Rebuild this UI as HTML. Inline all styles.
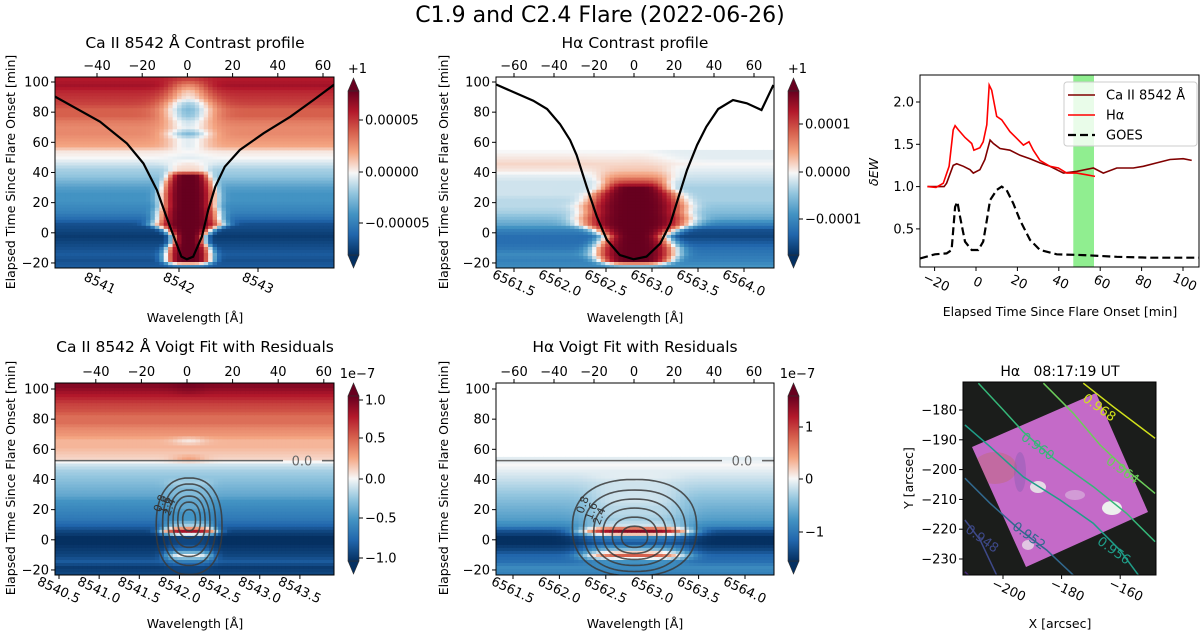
<!DOCTYPE html>
<html><head><meta charset="utf-8"><style>
html,body{margin:0;padding:0;background:#fff;}
svg{display:block;font-family:"DejaVu Sans","Liberation Sans",sans-serif;}
</style></head><body>
<svg id="fig" width="1200" height="634" viewBox="0 0 1200 634" xmlns="http://www.w3.org/2000/svg">
<defs>
<linearGradient id="cbgrad" x1="0" y1="1" x2="0" y2="0">
<stop offset="0" stop-color="#053061"/><stop offset="0.125" stop-color="#2166ac"/><stop offset="0.25" stop-color="#4393c3"/><stop offset="0.375" stop-color="#92c5de"/><stop offset="0.5" stop-color="#f7f7f7"/><stop offset="0.625" stop-color="#f4a582"/><stop offset="0.75" stop-color="#d6604d"/><stop offset="0.875" stop-color="#b2182b"/><stop offset="1" stop-color="#67001f"/>
</linearGradient>
<clipPath id="c1"><rect x="55" y="77" width="279" height="191"/></clipPath>
<clipPath id="c2"><rect x="496" y="77" width="278" height="191"/></clipPath>
<clipPath id="c3"><rect x="55" y="383" width="279" height="192"/></clipPath>
<clipPath id="c4"><rect x="496" y="383" width="278" height="192"/></clipPath>
<clipPath id="c5"><rect x="920" y="75" width="279" height="192"/></clipPath>
<clipPath id="c6"><rect x="963" y="382" width="193" height="193"/></clipPath>
<clipPath id="sq"><polygon points="1096,393 1148,512 1026,567 972,447"/></clipPath>
</defs>
<text x="600" y="22" font-size="22" text-anchor="middle">C1.9 and C2.4 Flare (2022-06-26)</text>
</svg>
<script>
// ---------- data ----------
const heatTimes = [-22,-18,-14,-10,-6,-2,2,6,10,14,18,22,26,30,34,38,42,46,50,54,58,62,66,70,74,78,82,86,90,94,98,102];
const caBg   = [-0.8,-0.85,-0.8,-0.85,-0.9,-0.95,-0.9,-0.85,-0.7,-0.6,-0.55,-0.5,-0.5,-0.45,-0.35,-0.25,-0.2,-0.1,0,0.05,0.25,0.3,0.35,0.35,0.4,0.5,0.5,0.6,0.65,0.7,0.8,0.75];
const caCore = [-0.6,1,1,1,1,1,1,1,1,1,1,1,1,1,1,1,0.1,0.05,-0.05,0,-0.05,-0.05,-0.3,-0.05,-0.1,-0.25,-0.3,-0.2,0.05,0.15,0.35,0.6];
const caWidth= [0.25,0.3,0.3,0.28,0.22,0.22,0.3,0.45,0.4,0.38,0.35,0.35,0.35,0.33,0.3,0.25,0.25,0.25,0.25,0.25,0.25,0.28,0.28,0.28,0.28,0.3,0.3,0.3,0.28,0.25,0.25,0.25];
const haBgL  = [-0.55,-0.6,-0.55,-0.65,-0.7,-0.7,-0.6,-0.4,-0.3,-0.2,-0.15,-0.15,-0.1,-0.1,-0.1,-0.05,0.05,0.1,0.05,0.0,null,null,null,null,null,null,null,null,null,null,null,null];
const haBgR  = [-0.5,-0.6,-0.65,-0.7,-0.8,-0.9,-0.85,-0.6,-0.4,-0.3,-0.25,-0.2,-0.2,-0.2,-0.15,-0.1,-0.05,0,-0.05,-0.05,null,null,null,null,null,null,null,null,null,null,null,null];
const haCore = [-0.3,1,1,1,1,1,1,1,1,1,1,1,1,1,0.6,0.3,0.15,0.1,0.05,0.0,null,null,null,null,null,null,null,null,null,null,null,null];
const haWidth= [0.3,0.4,0.45,0.45,0.4,0.35,0.45,0.6,0.6,0.55,0.55,0.5,0.45,0.35,0.35,0.4,0.4,0.4,0.4,0.3,0.3,0.3,0.3,0.3,0.3,0.3,0.3,0.3,0.3,0.3,0.3,0.3];
const caResBg  = [-0.9,-0.95,-0.8,-0.9,-0.95,-1,-1,-0.9,-0.75,-0.65,-0.6,-0.55,-0.5,-0.4,-0.35,-0.3,-0.25,-0.2,-0.1,0.1,0.15,0.2,0.2,0.3,0.35,0.45,0.45,0.55,0.6,0.7,0.8,0.9];
const caResCore= [-0.9,-0.9,-0.6,0.0,-0.7,-0.9,-0.9,0.8,-0.2,-0.5,-0.5,-0.4,-0.4,-0.3,-0.3,-0.2,-0.25,-0.2,-0.1,0.25,0.15,0.2,0.05,0.3,0.35,0.45,0.45,0.55,0.6,0.7,0.85,0.95];
const caResWidth=[0.3,0.3,0.3,0.3,0.3,0.3,0.3,0.35,0.3,0.3,0.3,0.3,0.3,0.3,0.3,0.3,0.3,0.3,0.3,0.2,0.2,0.2,0.2,0.2,0.2,0.2,0.2,0.2,0.2,0.2,0.2,0.2];
const haResBg  = [-0.6,-0.55,-0.7,-0.75,-0.9,-1,-1,-0.85,-0.55,-0.45,-0.4,-0.35,-0.3,-0.25,-0.2,-0.15,-0.1,-0.05,0.0,-0.05,null,null,null,null,null,null,null,null,null,null,null,null];
const haResCore= [-0.6,-0.55,-0.5,0.5,-0.3,-0.8,-0.6,0.9,-0.1,-0.2,-0.15,-0.15,-0.1,-0.1,-0.1,-0.1,-0.05,-0.05,0.0,-0.05,null,null,null,null,null,null,null,null,null,null,null,null];
const haResWidth=[0.55,0.55,0.55,0.55,0.55,0.6,0.6,0.6,0.55,0.55,0.55,0.55,0.5,0.5,0.5,0.5,0.5,0.5,0.5,0.5,0.5,0.5,0.5,0.5,0.5,0.5,0.5,0.5,0.5,0.5,0.5,0.5];
// mean line profiles (wavelength, plotted on time axis)
const caProfLam = [8540.43,8541.00,8541.34,8541.55,8541.72,8541.84,8541.95,8542.03,8542.10,8542.18,8542.29,8542.37,8542.46,8542.58,8542.77,8543.07,8543.41,8543.70,8543.97];
const caProfVal = [90.3,73.7,59.3,46,28.4,10.7,-4.8,-15.8,-17.6,-15.8,-2.6,15.1,30.6,43.8,54.9,66,77,88,98.5];
const haProfLam = [6561.30,6561.71,6561.86,6562.00,6562.11,6562.18,6562.29,6562.40,6562.51,6562.65,6562.80,6562.94,6563.09,6563.20,6563.29,6563.38,6563.49,6563.59,6563.72,6563.88,6564.03,6564.19,6564.32];
const haProfVal = [98.5,87.6,82.1,72.1,61.5,51.6,30.6,10.8,-4.8,-14.7,-17.6,-15.8,-7,6.3,24,41.6,58.2,70.3,82.1,88,85.9,81.4,98];
// contour levels of residual panels
const caContLevels = ['0.8','1.6','2.4','3.2','4.0','4.8'];
const caContHW = [0.41,0.33,0.26,0.2,0.14,0.08];
const caContHH = [32,27,22,17,12,7];
const caContT  = [9,10,11,12,13,13];
const haContLevels = ['0.8','1.6','2.4','3.2','4.0','4.8'];
const haContHW = [0.67,0.55,0.44,0.34,0.24,0.14];
const haContHH = [32,27,22,17,12,7];
const haContT  = [8,6,5,4,3,2];
// dEW time series
const haEwT = [-23.5,-19.3,-15.8,-13,-11,-10.1,-8.5,-5.3,-2.1,-1,1.9,3.5,5.2,6.4,7.6,10,12.4,16.4,19.7,22.9,25.6,27.7,30.9,35.7,39.8,43.8,48.6,53.5,57.5];
const haEwV = [1.0,0.99,1.04,1.24,1.67,1.72,1.67,1.58,1.51,1.43,1.46,1.53,1.73,2.20,2.14,1.83,1.79,1.65,1.57,1.49,1.53,1.43,1.31,1.24,1.22,1.16,1.16,1.14,1.12];
const caEwT = [-23.5,-15.4,-14.2,-11,-9.3,-6.1,-2.9,-1.3,1.9,4.3,6.8,8.4,11.6,16.4,21.3,26.1,30.9,35.7,42.2,48.6,56.7,61.5,68,76,80.8,87.3,93.7,100.1,104.2];
const caEwV = [1.0,1.0,1.04,1.25,1.27,1.24,1.20,1.16,1.20,1.32,1.55,1.51,1.45,1.43,1.37,1.33,1.28,1.24,1.16,1.18,1.22,1.16,1.22,1.22,1.24,1.28,1.32,1.33,1.31];
const goesT = [-27,-19.8,-14.2,-11.8,-10.1,-9,-7.7,-5.3,-2.1,1.1,3.5,5.2,6.8,10,12.4,14.8,18,21.3,26.1,30.9,39,51.8,68,84.1,108.2];
const goesV = [0.15,0.20,0.21,0.25,0.76,0.82,0.64,0.35,0.25,0.25,0.35,0.60,0.84,0.96,1.0,0.96,0.80,0.60,0.37,0.25,0.20,0.19,0.17,0.16,0.16];
const bandT = [47,57];
// map contours (arcsec)
const mapLevels = ['0.968','0.964','0.960','0.956','0.952','0.948','0.944'];
const mapColors = ['#d2e21b','#6ccd5a','#35b779','#1f9e89','#31688e','#3e4989','#482878'];
const mapX = [[-172.6,-162.4,-148.1],[-186.2,-176.0,-166.9,-157.8,-148.1],[-208.4,-199.9,-193.1,-182.8,-169.2,-157.8,-148.1],[-213,-204.4,-193.1,-180.5,-169.2,-160.1,-153.8],[-213,-204.4,-194.2,-185.1,-176],[-213,-207.8,-202.2],[-213,-211.8]];
const mapY = [[-171.0,-178.9,-189.5],[-171.0,-181.1,-191.7,-200.1,-208.0],[-171.0,-180,-187.3,-196.2,-205.7,-214.7,-224.2],[-185,-192.3,-202.4,-210.2,-218,-227,-235.4],[-202.9,-211.3,-220.3,-227,-235.4],[-216.9,-223.6,-235.4],[-234.3,-235.4]];
const mapLabelX = [-168,-160,-189,-163,-192,-208];
const mapLabelY = [-179,-200,-192,-227,-222,-223];

// ---------- helpers ----------
const NS='http://www.w3.org/2000/svg';
const svg=document.getElementById('fig');
function mk(tag,attrs,parent){const e=document.createElementNS(NS,tag);for(const k in attrs)e.setAttribute(k,attrs[k]);(parent||svg).appendChild(e);return e;}
function txt(x,y,s,size,anchor,parent){const e=mk('text',{x:x,y:y,'font-size':size,'text-anchor':anchor||'middle'},parent);e.textContent=s;return e;}
const stops=[[-1,[5,48,97]],[-0.75,[33,102,172]],[-0.5,[67,147,195]],[-0.25,[146,197,222]],[0,[247,247,247]],[0.25,[244,165,130]],[0.5,[214,96,77]],[0.75,[178,24,43]],[1,[103,0,31]]];
function cmap(v){v=Math.max(-1,Math.min(1,v));for(let i=0;i<stops.length-1;i++){const a=stops[i],b=stops[i+1];if(v<=b[0]){const f=(v-a[0])/(b[0]-a[0]);const c=a[1].map((x,j)=>Math.round(x+(b[1][j]-x)*f));return 'rgb('+c.join(',')+')';}}return 'rgb(103,0,31)';}
function interp(ts,vs,t){if(t<=ts[0])return vs[0];for(let i=0;i<ts.length-1;i++){if(t<=ts[i+1]){const a=vs[i],b=vs[i+1];if(a===null||b===null)return null;const f=(t-ts[i])/(ts[i+1]-ts[i]);return a+(b-a)*f;}}return vs[vs.length-1];}

function heat(p){
  const g=mk('g',{'clip-path':'url(#'+p.clip+')'});
  
  
  const ncol=64, dl=(p.lamMax-p.lamMin)/ncol;
  for(let t=-24;t<=105;t+=2){
    const bl=interp(heatTimes,p.bgL,t), br=interp(heatTimes,p.bgR,t), co=interp(heatTimes,p.core,t), w=interp(heatTimes,p.width,t);
    if(bl===null||br===null||co===null)continue;
    const y1=p.ty(t+1), y2=p.ty(t-1);
    for(let i=0;i<ncol;i++){
      const l=p.lamMin+(i+0.5)*dl, d=l-p.center;
      const s=1/(1+Math.exp(-d/0.15));
      const bg=bl*(1-s)+br*s;
      const pw=(t>45)?2:4;
      const v=bg+(co-bg)*Math.exp(-Math.pow(Math.abs(d)/w,pw));
      const x1=p.lx(p.lamMin+i*dl), x2=p.lx(p.lamMin+(i+1)*dl);
      const r=mk('rect',{x:x1.toFixed(1),y:y1.toFixed(1),width:(x2-x1+0.6).toFixed(1),height:(y2-y1+0.6).toFixed(1),fill:cmap(v)},g);
      
      
    }
  }
}
function frame(x,y,w,h,name){const r=mk('rect',{x:x,y:y,width:w,height:h,fill:'none',stroke:'#000','stroke-width':1});}
function yTicks(vals,fy,x,fmt,name){vals.forEach(v=>{const y=fy(v);mk('line',{x1:x-4,x2:x,y1:y,y2:y,stroke:'#000'});const t=txt(x-6,y+4.5,fmt(v),13,'end');});}
function topTicks(vals,fx,y,name){vals.forEach(v=>{const x=fx(v);mk('line',{x1:x,x2:x,y1:y,y2:y-4,stroke:'#000'});const t=txt(x,y-7,String(v).replace('-','\u2212'),13,'middle');});}
function botTicks(vals,fx,y,fmt,name){vals.forEach(v=>{const x=fx(v);mk('line',{x1:x,x2:x,y1:y,y2:y+4,stroke:'#000'});const t=mk('text',{x:0,y:0,'font-size':13,'text-anchor':'middle',transform:'translate('+(x-2)+','+(y+19)+') rotate(25)'});t.textContent=fmt(v);});}
function colorbar(x,y0,y1,ticks,tickY,top,name){
  const g=mk('g',{});
  const w=11,tri=13;
  mk('polygon',{points:`${x},${y0+tri} ${x+w/2},${y0} ${x+w},${y0+tri}`,fill:'#67001f',stroke:'#333','stroke-width':0.6},g);
  mk('polygon',{points:`${x},${y1-tri} ${x+w/2},${y1} ${x+w},${y1-tri}`,fill:'#053061',stroke:'#333','stroke-width':0.6},g);
  mk('rect',{x:x,y:y0+tri,width:w,height:y1-y0-2*tri,fill:'url(#cbgrad)',stroke:'#333','stroke-width':0.6},g);
  ticks.forEach((s,i)=>{mk('line',{x1:x+w,x2:x+w+4,y1:tickY[i],y2:tickY[i],stroke:'#000'},g);const t=txt(x+w+6,tickY[i]+4.5,s,13,'start',g);});
  const t=txt(x+w/2+4,y0-5,top,13,'middle',g);
}
function ylab(x,cy,s){const t=mk('text',{x:0,y:0,'font-size':12.5,'text-anchor':'middle',transform:`translate(${x},${cy}) rotate(-90)`});t.textContent=s;return t;}
function line(xs,ys,fx,fy,attrs,parent){let d='';xs.forEach((v,i)=>{d+=(i?'L':'M')+fx(v).toFixed(1)+','+fy(ys[i]).toFixed(1);});return mk('path',Object.assign({d:d,fill:'none'},attrs),parent);}
const fmtT=v=>String(v).replace('-','\u2212');
const timeTicks=[-20,0,20,40,60,80,100];
const ELAPSED='Elapsed Time Since Flare Onset [min]';
const TFS=15.5;

// ---------- panel 1: Ca contrast ----------
const ty1=t=>82+(100-t)*1.508;
const lx1=l=>100+(l-8541)*79;
heat({name:'ca-contrast',clip:'c1',lamMin:8540.4,lamMax:8544,center:8542.12,lx:lx1,ty:ty1,bgL:caBg,bgR:caBg,core:caCore,width:caWidth});
{const p=line(caProfLam,caProfVal,lx1,ty1,{stroke:'#000','stroke-width':2.2,'clip-path':'url(#c1)'});}
frame(55,77,279,191,'ca-contrast');
yTicks(timeTicks,ty1,55,fmtT,'ca-contrast-y');
topTicks([-40,-20,0,20,40,60],v=>187.4+v*2.26,77,'ca-contrast');
botTicks([8541,8542,8543],lx1,268,v=>String(v),'ca-contrast');
{const t=txt(195,48,'Ca II 8542 Å Contrast profile',TFS);}
{const t=txt(195,322,'Wavelength [Å]',12.5);}
ylab(15,172,ELAPSED);
colorbar(348,78,268,['0.00005','0.00000','\u22120.00005'],[120,172,223],'+1','ca-contrast');

// ---------- panel 2: Ha contrast ----------
const lx2=l=>514+(l-6561.5)*92;
heat({name:'ha-contrast',clip:'c2',lamMin:6561.3,lamMax:6564.35,center:6562.82,lx:lx2,ty:ty1,bgL:haBgL,bgR:haBgR,core:haCore,width:haWidth});
{const p=line(haProfLam,haProfVal,lx2,ty1,{stroke:'#000','stroke-width':2.2,'clip-path':'url(#c2)'});}
frame(496,77,278,191,'ha-contrast');
yTicks(timeTicks,ty1,496,fmtT,'ha-contrast-y');
topTicks([-60,-40,-20,0,20,40,60],v=>634+v*2.0,77,'ha-contrast');
botTicks([6561.5,6562.0,6562.5,6563.0,6563.5,6564.0],lx2,268,v=>v.toFixed(1),'ha-contrast');
{const t=txt(635,48,'Hα Contrast profile',TFS);}
{const t=txt(635,322,'Wavelength [Å]',12.5);}
ylab(448,172,ELAPSED);
colorbar(788,78,268,['0.0001','0.0000','\u22120.0001'],[124,172,219],'+1','ha-contrast');

// ---------- panel 3: Ca residual ----------
const ty3=t=>389+(100-t)*1.508;
const lx3=l=>59+(l-8540.5)*80.3;
heat({name:'ca-residual',clip:'c3',lamMin:8540.4,lamMax:8544,center:8542.12,lx:lx3,ty:ty3,bgL:caResBg,bgR:caResBg,core:caResCore,width:caResWidth});
function contours(levels,hw,hh,tc,center,lx,ty,clip,name){
  const g=mk('g',{'clip-path':'url(#'+clip+')'});
  levels.forEach((lv,i)=>{let d='';for(let k=0;k<=72;k++){const a=k/72*2*Math.PI;const c=Math.cos(a),s=Math.sin(a);const px=Math.sign(c)*Math.pow(Math.abs(c),0.85),py=Math.sign(s)*Math.pow(Math.abs(s),0.85);d+=(k?'L':'M')+lx(center+hw[i]*px).toFixed(1)+','+ty(tc[i]+hh[i]*py).toFixed(1);}
    const p=mk('path',{d:d+'Z',fill:'none',stroke:'#3a3a3a','stroke-opacity':0.85,'stroke-width':1.6},g);
    if(i<3){const t=mk('text',{x:0,y:0,'font-size':11,fill:'#333','text-anchor':'middle',transform:`translate(${lx(center-hw[i]*0.78)},${ty(tc[i]+hh[i]*0.45)}) rotate(-70)`},g);t.textContent=lv;}
  });
}
contours(caContLevels,caContHW,caContHH,caContT,8542.12,lx3,ty3,'c3','ca-residual');
{const g=mk('g',{});const y=ty3(52.5);mk('line',{x1:55,x2:283,y1:y,y2:y,stroke:'#666','stroke-width':1.6},g);mk('line',{x1:322,x2:334,y1:y,y2:y,stroke:'#666','stroke-width':1.6},g);txt(302,y+5,'0.0',13,'middle',g).setAttribute('fill','#666');}
frame(55,383,279,192,'ca-residual');
yTicks(timeTicks,ty3,55,fmtT,'ca-residual-y');
topTicks([-40,-20,0,20,40,60],v=>187+v*2.28,383,'ca-residual');
botTicks([8540.5,8541.0,8541.5,8542.0,8542.5,8543.0,8543.5],lx3,575,v=>v.toFixed(1),'ca-residual');
{const t=txt(195,352,'Ca II 8542 Å Voigt Fit with Residuals',TFS);}
{const t=txt(195,628,'Wavelength [Å]',12.5);}
ylab(15,478,ELAPSED);
colorbar(348,383,574,['1.0','0.5','0.0','\u22120.5','\u22121.0'],[400,438,479,518,558],'1e\u22127','ca-residual');

// ---------- panel 4: Ha residual ----------
const lx4=l=>513+(l-6561.5)*92.8;
heat({name:'ha-residual',clip:'c4',lamMin:6561.3,lamMax:6564.35,center:6562.82,lx:lx4,ty:ty3,bgL:haResBg,bgR:haResBg,core:haResCore,width:haResWidth});
contours(haContLevels,haContHW,haContHH,haContT,6562.81,lx4,ty3,'c4','ha-residual');
{const g=mk('g',{});const y=ty3(52.5);mk('line',{x1:496,x2:722,y1:y,y2:y,stroke:'#666','stroke-width':1.6},g);mk('line',{x1:762,x2:774,y1:y,y2:y,stroke:'#666','stroke-width':1.6},g);txt(742,y+5,'0.0',13,'middle',g).setAttribute('fill','#666');}
frame(496,383,278,192,'ha-residual');
yTicks(timeTicks,ty3,496,fmtT,'ha-residual-y');
topTicks([-60,-40,-20,0,20,40,60],v=>634+v*2.0,383,'ha-residual');
botTicks([6561.5,6562.0,6562.5,6563.0,6563.5,6564.0],lx4,575,v=>v.toFixed(1),'ha-residual');
{const t=txt(635,352,'Hα Voigt Fit with Residuals',TFS);}
{const t=txt(635,628,'Wavelength [Å]',12.5);}
ylab(448,478,ELAPSED);
colorbar(788,383,574,['1','0','\u22121'],[427,479,532],'1e\u22127','ha-residual');

// ---------- panel 5: dEW ----------
const fx5=t=>976+t*2.07;
const fy5=v=>102+(2.0-v)*84.6;
{const r=mk('rect',{x:fx5(bandT[0]),y:75,width:fx5(bandT[1])-fx5(bandT[0]),height:192,fill:'#90ee90'});}
{const p=line(goesT,goesV,fx5,fy5,{stroke:'#000','stroke-width':2.2,'stroke-dasharray':'8,4','clip-path':'url(#c5)'});}
{const p=line(caEwT,caEwV,fx5,fy5,{stroke:'#800000','stroke-width':1.6,'clip-path':'url(#c5)'});}
{const p=line(haEwT,haEwV,fx5,fy5,{stroke:'#ff0000','stroke-width':1.6,'clip-path':'url(#c5)'});}
frame(920,75,279,192,'ew');
yTicks([0.5,1.0,1.5,2.0],fy5,920,v=>v.toFixed(1),'ew-y');
[-20,0,20,40,60,80,100].forEach(v=>{const x=fx5(v);mk('line',{x1:x,x2:x,y1:267,y2:271,stroke:'#000'});const t=mk('text',{x:0,y:0,'font-size':13,'text-anchor':'middle',transform:`translate(${x},${286}) rotate(25)`});t.textContent=fmtT(v);});
{const t=txt(1060,316,ELAPSED,12.5);}
{const t=mk('text',{x:0,y:0,'font-size':12.5,'font-style':'italic','text-anchor':'middle',transform:'translate(878,172) rotate(-90)'});t.textContent='δEW';}
{const g=mk('g',{});
 mk('rect',{x:1064,y:82,width:133,height:64,rx:3,fill:'#fff','fill-opacity':0.8,stroke:'#ccc'},g);
 const items=[['Ca II 8542 Å','#800000',''],['Hα','#ff0000',''],['GOES','#000','8,4']];
 items.forEach((it,i)=>{const y=95+i*20;const l=mk('line',{x1:1068,x2:1095,y1:y,y2:y,stroke:it[1],'stroke-width':it[2]?2.2:1.6,'stroke-dasharray':it[2]||'none'},g);const t=txt(1106,y+4.5,it[0],13,'start',g);});
}

// ---------- panel 6: map ----------
const fx6=x=>1003+(x+200)*2.93;
const fy6=y=>410-(y+180)*2.98;
{const r=mk('rect',{x:963,y:382,width:193,height:193,fill:'#1b1d1b'});}
{const g=mk('g',{'clip-path':'url(#sq)'});
 mk('rect',{x:960,y:390,width:200,height:180,fill:'#c46ac8'},g);
 mk('ellipse',{cx:995,cy:468,rx:22,ry:16,fill:'#c06a5a','fill-opacity':0.35},g);
 mk('ellipse',{cx:1020,cy:472,rx:6,ry:20,fill:'#7a58b0','fill-opacity':0.35},g);
 mk('ellipse',{cx:1038,cy:487,rx:8,ry:6,fill:'#eef8ee','fill-opacity':0.8},g);
 mk('ellipse',{cx:1112,cy:508,rx:10,ry:7,fill:'#f2fff2','fill-opacity':0.9},g);
 mk('ellipse',{cx:1028,cy:545,rx:6,ry:5,fill:'#eeeeee','fill-opacity':0.7},g);
 mk('ellipse',{cx:1075,cy:495,rx:10,ry:5,fill:'#e0cce4','fill-opacity':0.5},g);
}
{const g=mk('g',{'clip-path':'url(#c6)'});
 mapLevels.forEach((lv,i)=>{const p=line(mapX[i],mapY[i],fx6,fy6,{stroke:mapColors[i],'stroke-width':1.5},g);
  if(i<6){const t=mk('text',{x:0,y:0,'font-size':13,fill:mapColors[i],'text-anchor':'middle',transform:`translate(${fx6(mapLabelX[i])},${fy6(mapLabelY[i])+4}) rotate(36)`},g);t.textContent=lv;}
 });
}
frame(963,382,193,193,'map');
yTicks([-180,-190,-200,-210,-220,-230],fy6,963,fmtT,'map-y');
[-200,-180,-160].forEach(v=>{const x=fx6(v);mk('line',{x1:x,x2:x,y1:575,y2:579,stroke:'#000'});const t=mk('text',{x:0,y:0,'font-size':13,'text-anchor':'middle',transform:`translate(${x+4},${594}) rotate(25)`});t.textContent=fmtT(v);});
{const t=txt(1060,376,'Hα\u00a0\u00a0\u00a008:17:19 UT',14);}
{const t=txt(1060,628,'X [arcsec]',12.5);}
{const t=mk('text',{x:0,y:0,'font-size':12.5,'text-anchor':'middle',transform:'translate(913,478) rotate(-90)'});t.textContent='Y [arcsec]';}
</script>
</body></html>
